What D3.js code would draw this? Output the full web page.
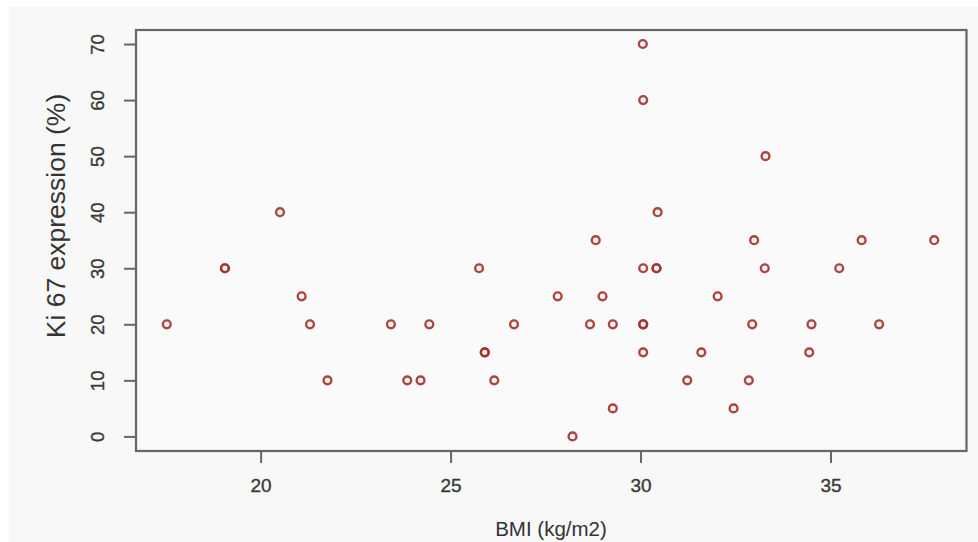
<!DOCTYPE html>
<html>
<head>
<meta charset="utf-8">
<script src="https://cdn.jsdelivr.net/npm/d3@7"></script>
<style>
  html, body { margin: 0; padding: 0; background: #ffffff; }
  svg { display: block; }
</style>
</head>
<body>
<svg id="chart" width="978" height="542"></svg>
<script>
// BMI (kg/m2) values
const bmi = [17.53, 19.06, 19.06, 20.51, 21.08, 21.30, 21.76, 23.43, 23.86, 24.21,
  24.44, 25.75, 25.90, 25.90, 26.15, 26.67, 27.82, 28.21, 28.67, 28.82,
  29.00, 29.27, 29.27, 30.06, 30.07, 30.07, 30.07, 30.07, 30.07, 30.45,
  30.42, 30.42, 31.23, 31.60, 32.03, 32.45, 32.85, 32.94, 32.99, 33.29,
  33.27, 34.44, 34.50, 35.23, 35.82, 36.28, 37.73];
// Ki 67 expression (%) values
const ki67 = [20, 30, 30, 40, 25, 20, 10, 20, 10, 10,
  20, 30, 15, 15, 10, 20, 25, 0, 20, 35,
  25, 20, 5, 70, 60, 30, 20, 20, 15, 40,
  30, 30, 10, 15, 25, 5, 10, 20, 35, 50,
  30, 15, 20, 30, 35, 20, 35];
const xTicks = [20, 25, 30, 35];
const yTicks = [0, 10, 20, 30, 40, 50, 60, 70];
const xTitle = "BMI (kg/m2)";
const yTitle = "Ki 67 expression (%)";

const svg = d3.select("#chart");
const W = 978, H = 542;
const L = 136, R = 966.5, T = 30, B = 451;

// page background (light grey with a thin white edge at top/left)
svg.append("rect").attr("x", 0).attr("y", 0).attr("width", W).attr("height", H).attr("fill", "#ffffff");
svg.append("rect").attr("x", 9).attr("y", 7).attr("width", W - 9).attr("height", H - 7).attr("fill", "#f8f8f8");

const x = d3.scaleLinear().domain([16.72, 38.58]).range([L, R]);
const y = d3.scaleLinear().domain([-2.6, 72.5]).range([B, T]);

// plot area
svg.append("rect").attr("x", L).attr("y", T).attr("width", R - L).attr("height", B - T)
  .attr("fill", "#fafafb");

// x axis
const gx = svg.append("g").attr("transform", `translate(0,${B})`)
  .call(d3.axisBottom(x).tickValues(xTicks).tickSize(12).tickPadding(16).tickFormat(d3.format("d")));
gx.select(".domain").remove();
gx.selectAll("line").attr("stroke", "#6a6562").attr("stroke-width", 2);
gx.selectAll("text").attr("font-family", "Liberation Sans, Arial, sans-serif")
  .attr("font-size", 19).attr("fill", "#383838")
  .attr("stroke", "#383838").attr("stroke-width", 0.35);

// y axis
const gy = svg.append("g").attr("transform", `translate(${L},0)`)
  .call(d3.axisLeft(y).tickValues(yTicks).tickSize(12).tickPadding(0).tickFormat(d3.format("d")));
gy.select(".domain").remove();
gy.selectAll("line").attr("stroke", "#6a6562").attr("stroke-width", 2);
gy.selectAll("text")
  .attr("font-family", "Liberation Sans, Arial, sans-serif")
  .attr("font-size", 18.5).attr("fill", "#383838")
  .attr("stroke", "#383838").attr("stroke-width", 0.35)
  .attr("text-anchor", "middle")
  .attr("x", 0).attr("dy", 0)
  .attr("transform", "translate(-39,0) rotate(-90)")
  .attr("dominant-baseline", "central");

// box
svg.append("rect").attr("x", L).attr("y", T).attr("width", R - L).attr("height", B - T)
  .attr("fill", "none").attr("stroke", "#6a6562").attr("stroke-width", 2.2);

// points
svg.append("g").selectAll("circle")
  .data(bmi.map((b, i) => ({ b, k: ki67[i] })))
  .join("circle")
  .attr("cx", d => x(d.b))
  .attr("cy", d => y(d.k))
  .attr("r", 3.9)
  .attr("fill", "none")
  .attr("stroke", "#a5302b")
  .attr("stroke-opacity", 0.9)
  .attr("stroke-width", 2.4);

// titles
svg.append("text")
  .attr("x", 551).attr("y", 536)
  .attr("text-anchor", "middle")
  .attr("font-family", "Liberation Sans, Arial, sans-serif")
  .attr("font-size", 20.5).attr("fill", "#333")
  .text(xTitle);

svg.append("text")
  .attr("transform", `translate(56,216) rotate(-90)`)
  .attr("text-anchor", "middle")
  .attr("dominant-baseline", "central")
  .attr("font-family", "Liberation Sans, Arial, sans-serif")
  .attr("font-size", 26.5).attr("fill", "#333")
  .text(yTitle);
</script>
</body>
</html>
